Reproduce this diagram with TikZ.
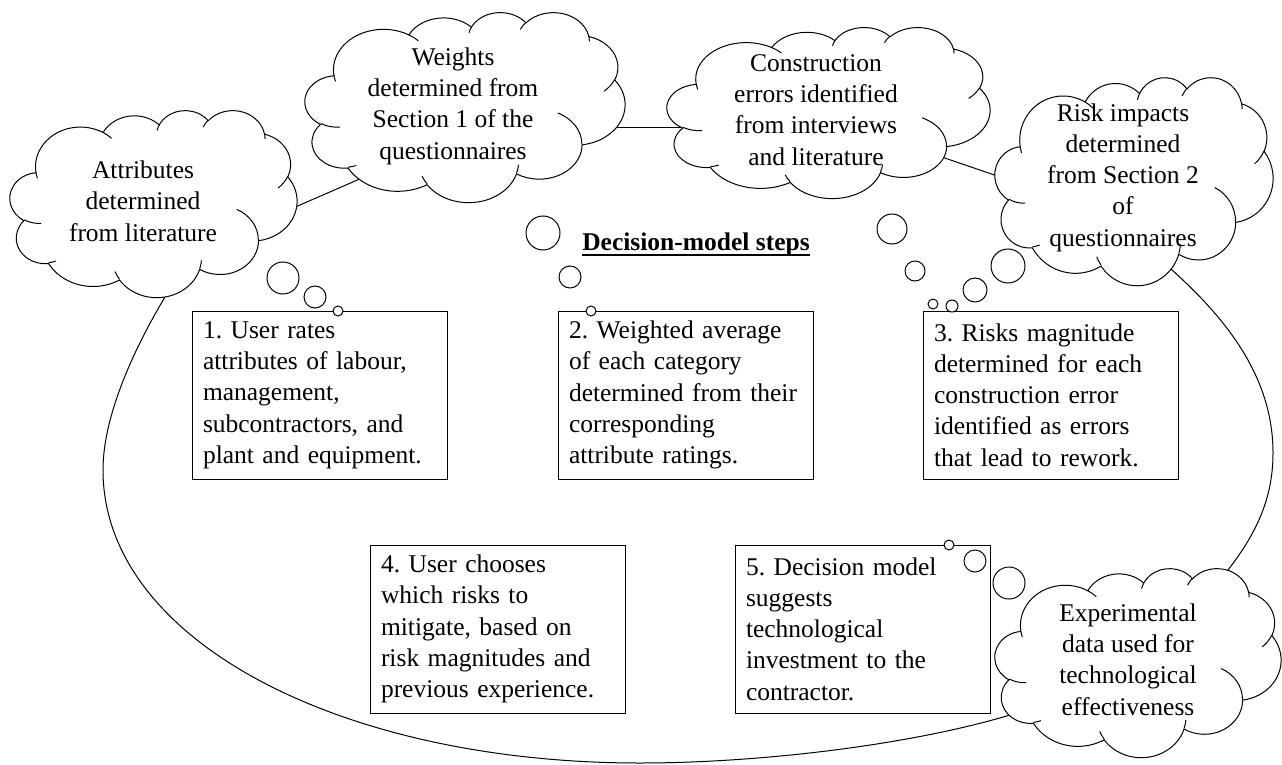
\documentclass[tikz,border=0pt]{standalone}
\usepackage{fontspec}
\setmainfont{Liberation Serif}

% text with a heavier underline
\newcommand\ulthick[1]{\leavevmode\setbox0=\hbox{#1}\rlap{\copy0}\rule[-6pt]{\wd0}{1.7pt}}

% Cloud outline in a 432 x 432 box (y downwards), scaled to the box (#1,#2) of size #3 x #4
\newcommand\officecloud[4]{%
  \begin{scope}[shift={(#1,#2)}, x=1pt, y=1pt, xscale=#3/432, yscale=-#4/432]
    \filldraw[cloudline, fill=white] (39.00,143.70)
      arc[start angle=172.254, end angle=300.364, x radius=67.53, y radius=91.90]
      arc[start angle=-152.02, end angle=-45.437, x radius=53.33, y radius=72.67]
      arc[start angle=-153.495, end angle=-37.338, x radius=43.65, y radius=59.45]
      arc[start angle=-139.705, end angle=-10.212, x radius=48.57, y radius=65.95]
      arc[start angle=-74.768, end angle=23.213, x radius=53.33, y radius=72.73]
      arc[start angle=-37.520, end angle=81.863, x radius=67.75, y radius=92.20]
      arc[start angle=0.4596, end angle=121.976, x radius=57.85, y radius=78.67]
      arc[start angle=16.844, end angle=146.230, x radius=67.52, y radius=92.15]
      arc[start angle=58.983, end angle=150.198, x radius=77.20, y radius=105.43]
      arc[start angle=83.306, end angle=223.088, x radius=43.60, y radius=59.18]
      arc[start angle=120.353, end angle=264.113, x radius=43.45, y radius=59.45]
      -- cycle;
    \draw[cloudline]
      (46.93,261.77) arc[start angle=85.547, end angle=120.353, x radius=43.45, y radius=59.45]
      (69.28,348.99) arc[start angle=68.233, end angle=83.306, x radius=43.60, y radius=59.18]
      (164.78,390.90) arc[start angle=146.230, end angle=158.473, x radius=67.52, y radius=92.15]
      (288.27,347.51) arc[start angle=4.738, end angle=16.844, x radius=67.52, y radius=92.15]
      (341.29,229.54) arc[start angle=-64.027, end angle=0.4596, x radius=57.85, y radius=78.67]
      (417.98,153.54) arc[start angle=23.213, end angle=49.645, x radius=53.33, y radius=72.73]
      (383.24,54.26) arc[start angle=-10.212, end angle=0.821, x radius=48.57, y radius=65.95]
      (290.78,39.52) arc[start angle=-156.289, end angle=-139.705, x radius=48.57, y radius=65.95]
      (221.41,47.20) arc[start angle=-167.726, end angle=-153.495, x radius=43.65, y radius=59.45]
      (140.00,51.92) arc[start angle=-59.636, end angle=-45.716, x radius=67.53, y radius=91.90]
      (41.27,157.89) arc[start angle=163.194, end angle=172.253, x radius=67.53, y radius=91.90];
  \end{scope}}

\begin{document}
\begin{tikzpicture}[x=1pt, y=-1pt,
  font=\fontsize{25.5}{31.3}\selectfont\frenchspacing,
  cloudline/.style={line width=1pt, draw=black},
  loopline/.style={line width=1pt},
  cloudtext/.style={align=center, inner sep=0pt},
  stepbox/.style={draw, line width=1pt, fill=white, minimum width=255pt, minimum height=168pt,
    text width=233pt, inner xsep=11pt, inner ysep=0pt, align=left},
  bubble/.style={circle, draw, fill=white, line width=1pt, inner sep=0pt}]
\useasboundingbox (0,0) rectangle (1282,765);
\fill[white] (0,0) rectangle (1282,765);

% ends of the loop segments, tucked inside the clouds
\coordinate (attr-r) at (270,218);
\coordinate (wts-l) at (385,168);
\coordinate (wts-r) at (600,127.5);
\coordinate (cons-l) at (695,127.5);
\coordinate (cons-r) at (930,153);
\coordinate (risk-l) at (1012,181);
\coordinate (risk-b) at (1160,258);
\coordinate (exp-t) at (1222,578);
\coordinate (exp-l) at (1025,710);
\coordinate (attr-b) at (175,282);

% the loop that joins the clouds
\draw[loopline] (attr-r) -- (wts-l);
\draw[loopline] (wts-r) -- (cons-l);
\draw[loopline] (cons-r) -- (risk-l);
\draw[loopline] (risk-b) -- (1172,270) .. controls (1230,322) and (1273,380) .. (1273,453)
  .. controls (1273,500) and (1255,535) .. (1228,570) -- (exp-t);
\draw[loopline] (exp-l) -- (1010,715) .. controls (910,745) and (760,763) .. (640,763)
  .. controls (340,763) and (103,640) .. (103,470)
  .. controls (103,410) and (141,337) .. (165,297) -- (attr-b);

% clouds
\officecloud{10}{110}{287}{187}
\officecloud{305}{12}{320}{190}
\officecloud{667}{27}{323}{171}
\officecloud{995}{77}{278}{208}
\officecloud{995}{568}{286}{189}

\node[cloudtext] (attr) at (143,201) {Attributes\\determined\\from literature};
\node[cloudtext] (wts) at (453,106) {Weights\\determined from\\Section 1 of the\\questionnaires};
\node[cloudtext] (cons) at (816,110) {Construction\\errors identified\\from interviews\\and literature};
\node[cloudtext] (risk) at (1123,177.5) {Risk impacts\\determined\\from Section 2\\of\\questionnaires};
\node[cloudtext] (exp) at (1128,659.5) {Experimental\\data used for\\technological\\effectiveness};

% title
\node[anchor=base, inner sep=0pt] (title) at (696,250) {\ulthick{\bfseries Decision-model steps}};

% steps
\node[stepbox] (s1) at (319.5,395) {1. User rates\\attributes of labour,\\management,\\subcontractors, and\\plant and equipment.};
\node[stepbox] (s2) at (685.5,395) {2. Weighted average\\of each category\\determined from their\\corresponding\\attribute ratings.};
\node[stepbox] (s3) at (1050.5,395) {3. Risks magnitude\\determined for each\\construction error\\identified as errors\\that lead to rework.};
\node[stepbox] (s4) at (497.5,629) {4. User chooses\\which risks to\\mitigate, based on\\risk magnitudes and\\previous experience.};
\node[stepbox] (s5) at (862.5,629) {5. Decision model\\suggests\\technological\\investment to the\\contractor.};

% thought bubbles
\node[bubble, minimum size=32pt] (b1a) at (283,278) {};
\node[bubble, minimum size=22pt] (b1b) at (315,297) {};
\node[bubble, minimum size=10pt] (b1c) at (338,311) {};

\node[bubble, minimum size=34pt] (b2a) at (543,233) {};
\node[bubble, minimum size=22pt] (b2b) at (570,277) {};
\node[bubble, minimum size=10pt] (b2c) at (591,311) {};

\node[bubble, minimum size=30pt] (b3a) at (892,229) {};
\node[bubble, minimum size=20pt] (b3b) at (915,271) {};
\node[bubble, minimum size=24pt] (b3c) at (975,290) {};
\node[bubble, minimum size=34pt] (b3d) at (1008,266) {};
\node[bubble, minimum size=10pt] (b3e) at (933,304) {};
\node[bubble, minimum size=12pt] (b3f) at (952,306) {};

\node[bubble, minimum size=10pt] (b5a) at (949,545) {};
\node[bubble, minimum size=22pt] (b5b) at (975,561) {};
\node[bubble, minimum size=32pt] (b5c) at (1009,583) {};
\end{tikzpicture}
\end{document}
